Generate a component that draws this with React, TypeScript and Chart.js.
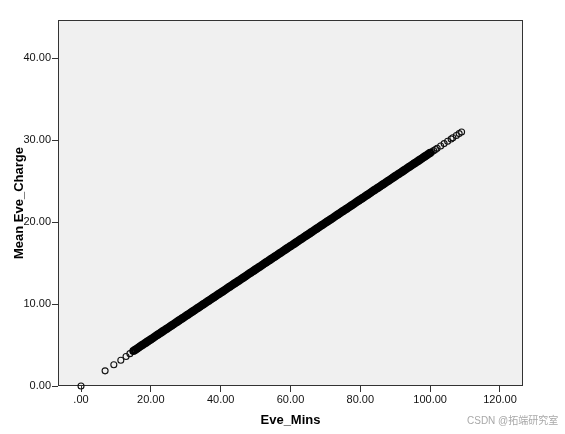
import React, { useEffect, useRef } from "react";
import { Chart, registerables } from "chart.js";

Chart.register(...registerables);

// Eve_Mins (x) and Mean Eve_Charge (y)
const MINS_LOW = [0, 6.9, 9.4, 11.4, 12.9, 14.0];
const CHARGE_LOW = [0, 1.85, 2.6, 3.15, 3.6, 3.95];

const MINS_BAND = [
  15, 15.5, 16, 16.5, 17, 17.5, 18, 18.5, 19, 19.5,
  20, 20.5, 21, 21.5, 22, 22.5, 23, 23.5, 24, 24.5,
  25, 25.5, 26, 26.5, 27, 27.5, 28, 28.5, 29, 29.5,
  30, 30.5, 31, 31.5, 32, 32.5, 33, 33.5, 34, 34.5,
  35, 35.5, 36, 36.5, 37, 37.5, 38, 38.5, 39, 39.5,
  40, 40.5, 41, 41.5, 42, 42.5, 43, 43.5, 44, 44.5,
  45, 45.5, 46, 46.5, 47, 47.5, 48, 48.5, 49, 49.5,
  50, 50.5, 51, 51.5, 52, 52.5, 53, 53.5, 54, 54.5,
  55, 55.5, 56, 56.5, 57, 57.5, 58, 58.5, 59, 59.5,
  60, 60.5, 61, 61.5, 62, 62.5, 63, 63.5, 64, 64.5,
  65, 65.5, 66, 66.5, 67, 67.5, 68, 68.5, 69, 69.5,
  70, 70.5, 71, 71.5, 72, 72.5, 73, 73.5, 74, 74.5,
  75, 75.5, 76, 76.5, 77, 77.5, 78, 78.5, 79, 79.5,
  80, 80.5, 81, 81.5, 82, 82.5, 83, 83.5, 84, 84.5,
  85, 85.5, 86, 86.5, 87, 87.5, 88, 88.5, 89, 89.5,
  90, 90.5, 91, 91.5, 92, 92.5, 93, 93.5, 94, 94.5,
  95, 95.5, 96, 96.5, 97, 97.5, 98, 98.5, 99, 99.5,
  100,
];
const CHARGE_BAND = [
  4.27, 4.41, 4.55, 4.69, 4.84, 4.98, 5.12, 5.26, 5.41, 5.55,
  5.69, 5.83, 5.97, 6.12, 6.26, 6.40, 6.54, 6.69, 6.83, 6.97,
  7.11, 7.25, 7.40, 7.54, 7.68, 7.82, 7.97, 8.11, 8.25, 8.39,
  8.54, 8.68, 8.82, 8.96, 9.10, 9.25, 9.39, 9.53, 9.67, 9.82,
  9.96, 10.10, 10.24, 10.38, 10.53, 10.67, 10.81, 10.95, 11.10, 11.24,
  11.38, 11.52, 11.66, 11.81, 11.95, 12.09, 12.23, 12.38, 12.52, 12.66,
  12.80, 12.94, 13.09, 13.23, 13.37, 13.51, 13.66, 13.80, 13.94, 14.08,
  14.23, 14.37, 14.51, 14.65, 14.79, 14.94, 15.08, 15.22, 15.36, 15.51,
  15.65, 15.79, 15.93, 16.07, 16.22, 16.36, 16.50, 16.64, 16.79, 16.93,
  17.07, 17.21, 17.35, 17.50, 17.64, 17.78, 17.92, 18.07, 18.21, 18.35,
  18.49, 18.63, 18.78, 18.92, 19.06, 19.20, 19.35, 19.49, 19.63, 19.77,
  19.92, 20.06, 20.20, 20.34, 20.48, 20.63, 20.77, 20.91, 21.05, 21.20,
  21.34, 21.48, 21.62, 21.76, 21.91, 22.05, 22.19, 22.33, 22.48, 22.62,
  22.76, 22.90, 23.04, 23.19, 23.33, 23.47, 23.61, 23.76, 23.90, 24.04,
  24.18, 24.32, 24.47, 24.61, 24.75, 24.89, 25.04, 25.18, 25.32, 25.46,
  25.61, 25.75, 25.89, 26.03, 26.17, 26.32, 26.46, 26.60, 26.74, 26.89,
  27.03, 27.17, 27.31, 27.45, 27.60, 27.74, 27.88, 28.02, 28.17, 28.31,
  28.45,
];

const MINS_HIGH = [100.5, 101, 101.5, 102, 103, 104, 105, 106, 106.5, 107.5, 108.3, 109.0];
const CHARGE_HIGH = [28.59, 28.73, 28.88, 29.02, 29.30, 29.59, 29.87, 30.16, 30.30, 30.58, 30.81, 31.01];

const X_TICKS = [0, 20, 40, 60, 80, 100, 120];
const X_TICK_LABELS = [".00", "20.00", "40.00", "60.00", "80.00", "100.00", "120.00"];
const Y_TICKS = [0, 10, 20, 30, 40];
const Y_TICK_LABELS = ["0.00", "10.00", "20.00", "30.00", "40.00"];

const X_TITLE = "Eve_Mins";
const Y_TITLE = "Mean Eve_Charge";
const WATERMARK = "CSDN @拓端研究室";

const FONT = "Arial, 'Liberation Sans', sans-serif";

export default function App() {
  const ref = useRef<HTMLCanvasElement | null>(null);

  useEffect(() => {
    const canvas = ref.current;
    if (!canvas) return;

    const toPts = (xs: number[], ys: number[]) => xs.map((x, i) => ({ x, y: ys[i] }));
    const sparse = [...toPts(MINS_LOW, CHARGE_LOW), ...toPts(MINS_HIGH, CHARGE_HIGH)];
    const band = toPts(MINS_BAND, CHARGE_BAND);

    const frame = {
      id: "spssFrame",
      beforeDraw(chart: any) {
        const { ctx, chartArea: a } = chart;
        ctx.save();
        ctx.fillStyle = "#F0F0F0";
        ctx.fillRect(a.left, a.top, a.right - a.left, a.bottom - a.top);
        ctx.restore();
      },
      beforeDatasetsDraw(chart: any) {
        const { ctx, chartArea: a } = chart;
        ctx.save();
        ctx.strokeStyle = "#333333";
        ctx.lineWidth = 1;
        ctx.strokeRect(
          Math.round(a.left) + 0.5,
          Math.round(a.top) + 0.5,
          Math.round(a.right - a.left) - 1,
          Math.round(a.bottom - a.top) - 1
        );
        ctx.restore();
      },
    };

    const common = {
      pointStyle: "circle",
      pointRadius: 3,
      pointBackgroundColor: "rgba(0,0,0,0)",
      pointHoverRadius: 3,
      clip: false as any,
    };

    const chart = new Chart(canvas, {
      type: "scatter",
      data: {
        datasets: [
          {
            ...common,
            data: band,
            pointBorderWidth: 2.2,
            pointBorderColor: "#000000",
          },
          {
            ...common,
            data: sparse,
            pointBorderWidth: 1.1,
            pointBorderColor: "#111111",
          },
        ],
      },
      options: {
        responsive: false,
        animation: false,
        devicePixelRatio: 1,
        layout: { padding: { top: 20, right: 42, left: 0, bottom: 0 } },
        plugins: {
          legend: { display: false },
          tooltip: { enabled: false },
        },
        scales: {
          x: {
            type: "linear",
            min: -6.59,
            max: 126.59,
            afterFit: (s: any) => {
              s.height = 48;
            },
            afterBuildTicks: (s: any) => {
              s.ticks = X_TICKS.map((v) => ({ value: v }));
            },
            ticks: {
              autoSkip: false,
              maxRotation: 0,
              padding: 1,
              color: "#111",
              font: { family: FONT, size: 11 },
              callback: (v: any) => {
                const i = X_TICKS.indexOf(Number(v));
                return i >= 0 ? X_TICK_LABELS[i] : "";
              },
            },
            grid: {
              display: true,
              drawOnChartArea: false,
              drawTicks: true,
              tickLength: 6,
              color: "#333333",
              lineWidth: 1,
            },
            border: { display: false },
            title: {
              display: true,
              text: X_TITLE,
              color: "#000",
              font: { family: FONT, size: 13, weight: "bold" },
              padding: { top: 0, bottom: 6 },
            },
          },
          y: {
            type: "linear",
            min: 0,
            max: 44.68,
            afterFit: (s: any) => {
              s.width = 58;
            },
            afterBuildTicks: (s: any) => {
              s.ticks = Y_TICKS.map((v) => ({ value: v }));
            },
            ticks: {
              autoSkip: false,
              padding: 1,
              color: "#111",
              font: { family: FONT, size: 11 },
              callback: (v: any) => {
                const i = Y_TICKS.indexOf(Number(v));
                return i >= 0 ? Y_TICK_LABELS[i] : "";
              },
            },
            grid: {
              display: true,
              drawOnChartArea: false,
              drawTicks: true,
              tickLength: 6,
              color: "#333333",
              lineWidth: 1,
            },
            border: { display: false },
            title: {
              display: true,
              text: Y_TITLE,
              color: "#000",
              font: { family: FONT, size: 13, weight: "bold" },
              padding: { top: 12, bottom: 0 },
            },
          },
        },
      },
      plugins: [frame],
    } as any);

    return () => {
      chart.destroy();
    };
  }, []);

  return (
    <div
      style={{
        position: "fixed",
        left: 0,
        top: 0,
        width: 565,
        height: 434,
        background: "#ffffff",
      }}
    >
      <canvas ref={ref} width={565} height={434} style={{ width: 565, height: 434, display: "block" }} />
      <div
        style={{
          position: "absolute",
          left: 467,
          top: 414,
          fontFamily: "Arial, 'Noto Sans CJK SC', sans-serif",
          fontSize: 10,
          color: "#a8a8a8",
          whiteSpace: "nowrap",
          lineHeight: "14px",
        }}
      >
        {WATERMARK}
      </div>
    </div>
  );
}
